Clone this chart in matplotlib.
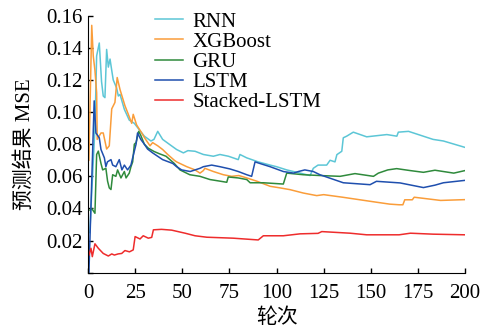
import numpy as np
import matplotlib
matplotlib.use("Agg")
import matplotlib.pyplot as plt
from matplotlib.ticker import FuncFormatter

plt.rcParams["font.family"] = ["Liberation Serif", "Noto Sans CJK SC"]
plt.rcParams["font.size"] = 15

# epoch / MSE readings per model
rnn_t = [1, 2, 3.7, 4.6, 6, 7.2, 8.1, 9, 9.9, 10.8, 11.7, 12.6, 13.4, 15.2, 16.1, 17, 19.3,
         21.9, 24.6, 27.2, 29.9, 33.4, 35, 37, 39.6, 43.1, 47, 50.6, 53, 56.8, 61.2, 66.5,
         70, 74.5, 79.7, 80.6, 84.2, 90.3, 96.6, 100, 105.4, 112.5, 117.8, 119.5, 122,
         126.6, 128.4, 131, 132, 134.6, 135.4, 137.2, 140.7, 147.8, 158.5, 163.8, 164.6,
         170, 183, 188.5, 200]
rnn_v = [0.025, 0.05, 0.09, 0.135, 0.143, 0.119, 0.110, 0.109, 0.139, 0.128, 0.133, 0.126,
         0.12, 0.115, 0.110, 0.111, 0.1017, 0.095, 0.093, 0.089, 0.085, 0.082, 0.083, 0.088,
         0.083, 0.080, 0.0767, 0.0746, 0.076, 0.0756, 0.0736, 0.0725, 0.0736, 0.0725, 0.0704,
         0.0736, 0.0715, 0.069, 0.067, 0.066, 0.064, 0.062, 0.0605, 0.065, 0.067, 0.067,
         0.070, 0.069, 0.0735, 0.0756, 0.084, 0.085, 0.0875, 0.0846, 0.086, 0.085, 0.0875,
         0.088, 0.083, 0.082, 0.078]

xgb_t = [0.5, 2, 2.8, 3.7, 4.6, 4.9, 6.9, 8.1, 9.9, 11.3, 12.6, 14.3, 15.5, 17, 19.6, 21.4,
         23.2, 24, 25.8, 28.5, 30, 32.9, 34.3, 37, 39.6, 42.3, 45.8, 47, 52.4, 56.8, 59.4,
         61.2, 62, 66.5, 71.8, 76.2, 80, 84.2, 89.5, 96.6, 101.9, 107.2, 114.2, 121.3, 125,
         135, 150, 160, 165, 167, 168, 172, 173, 187, 200]
xgb_v = [0.07, 0.154, 0.135, 0.126, 0.112, 0.083, 0.087, 0.087, 0.077, 0.079, 0.102, 0.106,
         0.1215, 0.114, 0.104, 0.0986, 0.093, 0.0986, 0.092, 0.087, 0.084, 0.079, 0.081,
         0.079, 0.0767, 0.0736, 0.070, 0.069, 0.066, 0.064, 0.062, 0.0636, 0.065, 0.063,
         0.061, 0.060, 0.0605, 0.059, 0.057, 0.0538, 0.0528, 0.0517, 0.0496, 0.048, 0.0486,
         0.047, 0.0444, 0.0427, 0.0423, 0.0423, 0.0454, 0.0454, 0.047, 0.045, 0.0455]

gru_t = [1, 2, 3.7, 4.6, 5.5, 6.9, 7.8, 9.5, 10.4, 11.3, 12.2, 13.1, 14.8, 15.7, 17.5, 19.3,
         20.2, 21.9, 22.8, 23.7, 24.6, 25.5, 26.9, 28, 29.9, 32, 35, 38, 41.4, 45.8, 48.8,
         54, 59.4, 64.7, 70, 73.6, 74.4, 79.7, 84.2, 86, 93, 103.6, 105.4, 114.2, 123,
         133.7, 141.6, 151.4, 154, 159, 163.7, 170.8, 177.9, 184, 194, 200]
gru_v = [0.039, 0.040, 0.037, 0.0736, 0.0757, 0.068, 0.064, 0.065, 0.057, 0.0528, 0.0518,
         0.061, 0.060, 0.064, 0.059, 0.063, 0.059, 0.062, 0.066, 0.069, 0.080, 0.081, 0.088,
         0.0855, 0.080, 0.0775, 0.0755, 0.074, 0.0725, 0.068, 0.064, 0.061, 0.060, 0.058,
         0.057, 0.0563, 0.0596, 0.059, 0.058, 0.056, 0.056, 0.0552, 0.062, 0.061, 0.0605,
         0.060, 0.0617, 0.060, 0.062, 0.064, 0.0648, 0.0636, 0.0625, 0.0638, 0.062, 0.0636]

lstm_t = [0.5, 3.3, 4.2, 6, 6.9, 8.7, 9.5, 10.3, 12.2, 13.1, 14.8, 16.6, 18, 19.3, 21, 22.8,
          23.7, 25.5, 26.3, 28, 29.9, 31.6, 34.3, 39.6, 45, 47, 49.7, 54.2, 59.4, 61.2,
          65.6, 70, 75.3, 79.7, 84.2, 86.8, 88.6, 91.2, 96.6, 103.6, 109, 111.6, 115,
          119.5, 123, 135.4, 149.6, 153, 165.5, 177.9, 184, 188.5, 200]
lstm_v = [0.0, 0.107, 0.087, 0.084, 0.0767, 0.0715, 0.066, 0.069, 0.0704, 0.067, 0.066,
          0.0704, 0.064, 0.067, 0.064, 0.067, 0.0715, 0.080, 0.087, 0.083, 0.080, 0.077,
          0.0746, 0.0704, 0.068, 0.066, 0.064, 0.063, 0.065, 0.066, 0.067, 0.066, 0.0646,
          0.063, 0.061, 0.060, 0.069, 0.068, 0.066, 0.063, 0.062, 0.063, 0.064, 0.063, 0.061,
          0.056, 0.0548, 0.0569, 0.0559, 0.053, 0.0545, 0.056, 0.0575]

stk_t = [0.5, 1.6, 2.3, 3.7, 5.5, 8.1, 10.8, 12.6, 14, 16, 17.9, 19.6, 22, 24, 25, 27.6,
         29.3, 32, 33.8, 34.7, 39, 44.4, 51.5, 56.8, 63, 77, 90.3, 93, 103.6, 112.5, 122,
         124, 139, 147.8, 165, 171, 183, 200]
stk_v = [0.011, 0.0152, 0.010, 0.018, 0.0152, 0.012, 0.0104, 0.0117, 0.011, 0.0117, 0.012,
         0.0138, 0.013, 0.0142, 0.0225, 0.021, 0.023, 0.0215, 0.022, 0.0267, 0.027, 0.0265,
         0.0246, 0.023, 0.0221, 0.0215, 0.0204, 0.023, 0.023, 0.0242, 0.0245, 0.0256,
         0.0246, 0.0236, 0.0236, 0.0246, 0.024, 0.0236]

series = [
    ("RNN", rnn_t, rnn_v, "#5cc6d6"),
    ("XGBoost", xgb_t, xgb_v, "#fa9d3a"),
    ("GRU", gru_t, gru_v, "#2f8a3c"),
    ("LSTM", lstm_t, lstm_v, "#1f4fae"),
    ("Stacked-LSTM", stk_t, stk_v, "#ee2c2c"),
]

fig = plt.figure(figsize=(4.86, 3.27), dpi=100)
ax = fig.add_axes([0.181, 0.166, 0.776, 0.786])

for name, t, v, c in series:
    ax.plot(t, v, color=c, linewidth=1.1, label=name)

ax.set_xlim(0, 200)
ax.set_ylim(0, 0.16)
ax.set_xticks([0, 25, 50, 75, 100, 125, 150, 175, 200])
ax.set_yticks(np.arange(0, 0.161, 0.02))
ax.yaxis.set_major_formatter(FuncFormatter(lambda y, p: "" if abs(y) < 1e-9 else "%.2f" % y))

ax.spines["top"].set_visible(False)
ax.spines["right"].set_visible(False)
ax.tick_params(direction="in", length=3.5, width=1, labelsize=15, pad=4)
ax.tick_params(axis="x", pad=8)

ax.set_xlabel("轮次", fontsize=15, labelpad=4)
ax.set_ylabel("预测结果 MSE", fontsize=15, labelpad=8)

ax.legend(loc="upper left", bbox_to_anchor=(155 / 486, 1 - 12 / 327),
          bbox_transform=fig.transFigure, frameon=False, fontsize=15,
          handlelength=1.35, handletextpad=0.45, labelspacing=0.03, borderpad=0,
          borderaxespad=0)

fig.savefig("out.png", dpi=100)
